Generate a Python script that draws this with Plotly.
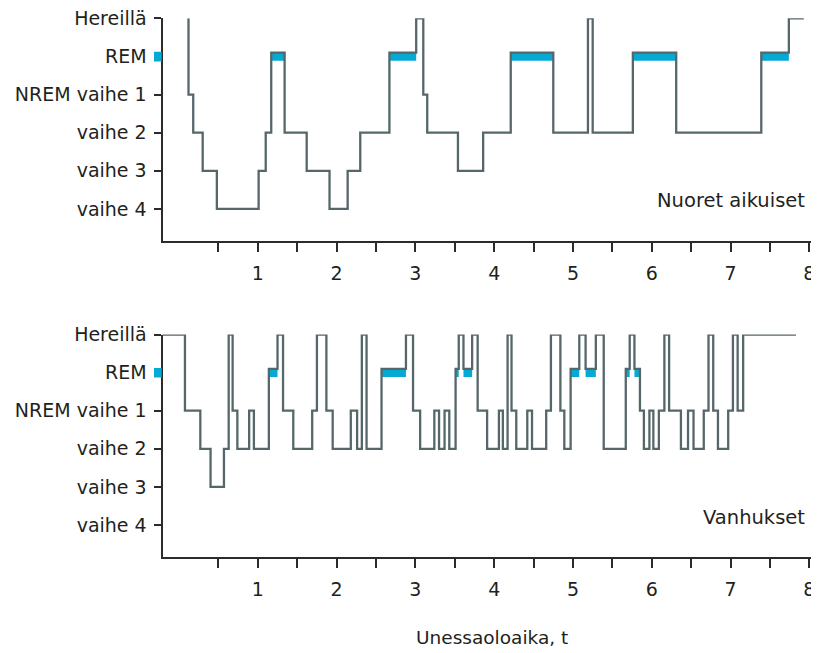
import plotly.graph_objects as go

# ---------------- data ----------------
stage_codes = ["N4", "N3", "N2", "N1", "REM", "W"]
stage_labels = ["vaihe 4", "vaihe 3", "vaihe 2", "NREM vaihe 1", "REM", "Hereillä"]
hour_ticks = [0.5 * i for i in range(1, 17)]
hour_labels = [str(int(h)) if h == int(h) else "" for h in hour_ticks]

young_start = [0.12, 0.12, 0.18, 0.30, 0.48, 1.01, 1.10, 1.17, 1.34, 1.62,
               1.91, 2.14, 2.30, 2.67, 3.01, 3.10, 3.15, 3.54, 3.86, 4.21,
               4.75, 5.19, 5.25, 5.76, 6.31, 7.39, 7.74]
young_stage = ["W", "N1", "N2", "N3", "N4", "N3", "N2", "REM", "N2", "N3",
               "N4", "N3", "N2", "REM", "W", "N1", "N2", "N3", "N2", "REM",
               "N2", "W", "N2", "REM", "N2", "REM", "W"]
young_end = 7.93

old_start = [-0.21, 0.075, 0.27, 0.40, 0.57, 0.63, 0.68, 0.74, 0.89, 0.95,
             1.14, 1.25, 1.32, 1.45, 1.69, 1.75, 1.87, 1.95, 2.18, 2.26,
             2.32, 2.38, 2.57, 2.88, 2.97, 3.06, 3.24, 3.30, 3.37, 3.43,
             3.51, 3.55, 3.61, 3.72, 3.79, 3.91, 4.06, 4.11, 4.17, 4.22,
             4.28, 4.42, 4.48, 4.66, 4.72, 4.84, 4.89, 4.97, 5.08, 5.16,
             5.29, 5.39, 5.67, 5.72, 5.78, 5.85, 5.90, 5.97, 6.02, 6.09,
             6.16, 6.22, 6.37, 6.46, 6.53, 6.66, 6.72, 6.78, 6.84, 6.97,
             7.03, 7.09, 7.16]
old_stage = ["W", "N1", "N2", "N3", "N2", "W", "N1", "N2", "N1", "N2",
             "REM", "W", "N1", "N2", "N1", "W", "N1", "N2", "N1", "N2",
             "W", "N2", "REM", "W", "N1", "N2", "N1", "N2", "N1", "N2",
             "REM", "W", "REM", "W", "N1", "N2", "N1", "N2", "W", "N1",
             "N2", "N1", "N2", "N1", "W", "N1", "N2", "REM", "W", "REM",
             "W", "N2", "REM", "W", "REM", "N1", "N2", "N1", "N2", "N1",
             "W", "N1", "N2", "N1", "N2", "N1", "W", "N1", "N2", "N1",
             "W", "N1", "W"]
old_end = 7.83

panel_titles = ["Nuoret aikuiset", "Vanhukset"]
x_title = "Unessaoloaika, t"

# ---------------- styling ----------------
OFF = 8                      # default page body margin
W, H = 819 - OFF, 653 - OFF  # figure size so that it fits the window
FONT = "DejaVu Sans"
TXT = "#231f20"
LINE = "#56676a"
CYAN = "#06a9d3"
AX = "#2b2b2b"
REM_LINE_OFFSET = 0.1

x0_px, x1_px = 162.5 - OFF, 812.5 - OFF
xrange = [-0.21, 8.04]
yrange = [-0.84, 5.0]
panels = [(18.3 - OFF, 241.0 - OFF), (334.5 - OFF, 557.0 - OFF)]  # (top px, bottom px)


def level(code):
    return stage_codes.index(code)


fig = go.Figure()
datasets = [(young_start, young_stage, young_end), (old_start, old_stage, old_end)]
for i, (starts, stages, end) in enumerate(datasets):
    xa = "x" if i == 0 else "x2"
    ya = "y" if i == 0 else "y2"
    # REM bands
    bx, by = [], []
    for j, s in enumerate(stages):
        if s == "REM":
            e = starts[j + 1] if j + 1 < len(starts) else end
            bx += [starts[j], e, None]
            by += [level("REM") - 0.01, level("REM") - 0.01, None]
    fig.add_trace(go.Scatter(x=bx, y=by, mode="lines", xaxis=xa, yaxis=ya,
                             line=dict(color=CYAN, width=8), hoverinfo="skip",
                             showlegend=False, cliponaxis=False))
    lv = [level(s) + (REM_LINE_OFFSET if s == "REM" else 0) for s in stages]
    fig.add_trace(go.Scatter(x=list(starts) + [end], y=lv + [lv[-1]], mode="lines",
                             line_shape="hv", xaxis=xa, yaxis=ya,
                             line=dict(color=LINE, width=2.3), hoverinfo="skip",
                             showlegend=False, cliponaxis=False))

xdom = [x0_px / W, x1_px / W]
axis_common = dict(showgrid=False, zeroline=False, showline=True, linecolor=AX,
                   linewidth=2, ticks="outside", tickcolor=AX, tickwidth=1.5,
                   automargin=False, ticklabeloverflow="allow",
                   tickfont=dict(family=FONT, size=19, color=TXT))
layout = dict(width=W, height=H, margin=dict(l=0, r=0, t=0, b=0, autoexpand=False),
              paper_bgcolor="white", plot_bgcolor="white", showlegend=False,
              font=dict(family=FONT, color=TXT))
for i, (ptop, pbot) in enumerate(panels):
    sfx = "" if i == 0 else "2"
    ydom = [1 - pbot / H, 1 - ptop / H]
    layout["xaxis" + sfx] = dict(axis_common, domain=xdom, range=xrange,
                                 anchor="y" + sfx, tickvals=hour_ticks,
                                 ticktext=hour_labels, ticklen=9,
                                 ticklabelstandoff=5)
    layout["yaxis" + sfx] = dict(axis_common, domain=ydom, range=yrange,
                                 anchor="x" + sfx, tickvals=list(range(6)),
                                 ticktext=stage_labels, ticklen=7,
                                 ticklabelstandoff=3)
fig.update_layout(**layout)

# cyan REM marker on each y axis
for i in range(2):
    sfx = "" if i == 0 else "2"
    fig.add_shape(type="rect", xref=("x" + sfx + " domain"), yref="y" + sfx,
                  x0=-0.0131, x1=-0.0012, y0=level("REM") - 0.13, y1=level("REM") + 0.12,
                  fillcolor=CYAN, line=dict(width=0), layer="above")

fig.add_annotation(text=panel_titles[0], xref="paper", yref="paper",
                   x=(807 - OFF) / W, y=1 - (201 - OFF) / H, xanchor="right", yanchor="middle",
                   showarrow=False, font=dict(family=FONT, size=19.5, color=TXT))
fig.add_annotation(text=panel_titles[1], xref="paper", yref="paper",
                   x=(807 - OFF) / W, y=1 - (517 - OFF) / H, xanchor="right", yanchor="middle",
                   showarrow=False, font=dict(family=FONT, size=19.5, color=TXT))
fig.add_annotation(text=x_title, xref="paper", yref="paper",
                   x=(492 - OFF) / W, y=1 - (637 - OFF) / H, xanchor="center",
                   yanchor="middle", showarrow=False,
                   font=dict(family=FONT, size=18.5, color=TXT))

fig.write_html("out.html")
